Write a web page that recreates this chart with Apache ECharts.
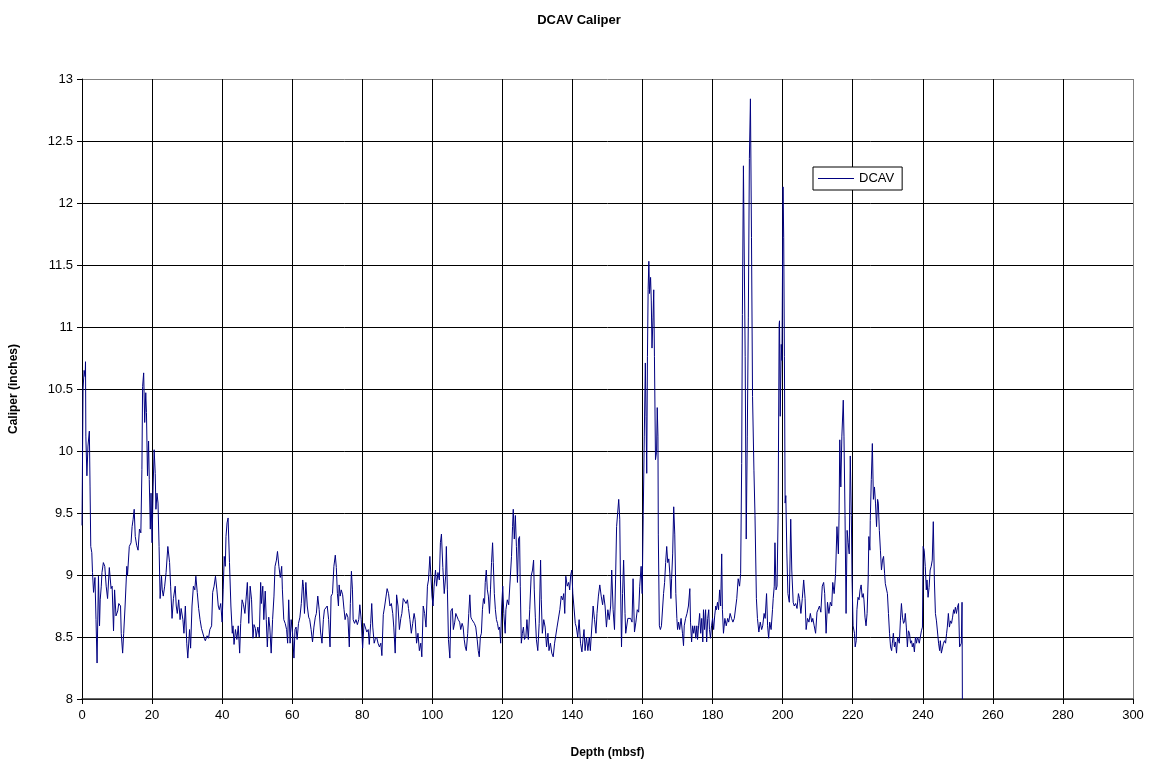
<!DOCTYPE html>
<html>
<head>
<meta charset="utf-8">
<script src="https://cdn.jsdelivr.net/npm/echarts@6/dist/echarts.min.js"></script>
<style>
html,body{margin:0;padding:0;background:#fff;}
#c{width:1158px;height:769px;}
</style>
</head>
<body>
<div id="c"></div>
<script>
var chartTitle = "DCAV Caliper";
var seriesName = "DCAV";
var xTitle = "Depth (mbsf)";
var yTitle = "Caliper (inches)";

var depth = [
0,0.3,0.6,0.9,1.0,1.1,1.4,1.7,2.1,2.3,2.5,2.8,3.0,3.3,3.7,4.0,4.3,4.7,5.0,5.2,5.5,5.7,6.1,6.5,6.9,7.3,7.8,8.3,8.6,9.0,9.3,9.7,10.2,10.5,11.0,11.2,11.6,11.9,12.3,12.8,13.0,13.5,14.0,14.3,14.6,14.9,15.2,15.6,16.0,16.4,16.8,17.1,17.3,17.6,17.9,18.2,18.4,18.7,19.0,19.2,19.5,19.7,20.0,20.3,20.6,20.9,21.1,21.4,21.7,22.0,22.3,22.7,22.9,23.2,23.6,24.0,24.5,25.0,25.3,25.7,26.1,26.6,26.9,27.2,27.6,28.0,28.3,28.8,29.1,29.5,29.9,30.2,30.7,31.0,31.4,31.8,32.2,32.5,32.9,33.3,33.7,34.1,34.5,34.9,35.2,35.7,36.1,36.5,37.0,37.3,37.7,38.1,38.5,38.9,39.2,39.6,40.0,40.3,40.6,40.9,41.1,41.4,41.7,42.1,42.5,42.9,43.1,43.4,43.8,44.2,44.6,45.0,45.3,45.7,46.1,46.5,46.9,47.2,47.6,48.0,48.4,48.8,49.1,49.5,
49.7,50.2,50.6,51.0,51.2,51.6,51.9,52.3,52.6,52.9,53.3,53.6,54.0,54.4,54.8,55.1,55.5,55.8,56.2,56.6,57.0,57.2,57.6,58.0,58.4,58.7,59.0,59.4,59.7,60.1,60.5,60.8,61.1,61.4,61.8,62.2,62.6,63.0,63.2,63.5,63.9,64.3,64.7,65.0,65.4,65.8,66.2,66.6,66.9,67.3,67.7,68.1,68.5,68.9,69.2,69.6,70.0,70.4,70.8,71.1,71.5,71.9,72.3,72.6,72.9,73.2,73.4,73.7,74.0,74.4,74.8,75.1,75.5,75.9,76.3,76.6,76.9,77.2,77.4,77.8,78.2,78.6,79.0,79.3,79.7,80.1,80.5,80.9,81.3,81.7,82.0,82.4,82.7,83.0,83.4,83.7,84.1,84.5,84.9,85.3,85.6,86.0,86.4,86.8,87.1,87.5,87.9,88.3,88.7,89.0,89.4,89.8,90.2,90.6,91.0,91.3,91.7,92.1,92.5,92.9,93.2,93.6,94.0,94.4,94.8,95.1,95.5,95.9,96.3,96.7,97.0,97.4,97.8,98.2,98.6,98.9,99.3,99.6,99.9,100.2,100.5,100.9,101.2,101.6,102.0,102.3,102.6,103.0,103.4,
103.8,104.0,104.3,104.6,105.0,105.3,105.7,106.0,106.4,106.7,107.0,107.4,107.8,108.1,108.5,108.8,109.1,109.4,109.7,110.1,110.4,110.7,111.0,111.3,111.6,112.0,112.4,112.8,113.1,113.4,113.7,114.0,114.3,114.6,114.9,115.1,115.4,115.7,116.0,116.3,116.6,116.9,117.2,117.4,117.7,118.0,118.3,118.6,118.9,119.2,119.5,119.8,120.1,120.4,120.8,121.0,121.4,121.8,122.2,122.6,122.9,123.1,123.4,123.7,124.0,124.3,124.6,124.9,125.1,125.4,125.7,126.0,126.3,126.7,127.0,127.4,127.8,128.2,128.6,128.9,129.1,129.4,129.7,130.1,130.5,130.9,131.1,131.4,131.8,132.2,132.6,133.0,133.3,133.7,134.1,134.5,134.9,135.2,135.6,136.0,136.4,136.8,137.2,137.5,137.8,138.1,138.5,138.9,139.2,139.5,139.8,140.1,140.4,140.8,141.1,141.5,141.9,142.3,142.7,143.0,143.3,143.6,144.0,144.4,144.8,145.1,145.5,145.9,146.3,146.7,147.0,147.4,147.8,148.2,148.6,148.9,149.3,149.7,150.1,150.5,150.9,151.2,151.6,152.0,152.3,152.6,152.9,153.2,153.5,153.7,154.0,154.3,154.6,155.0,155.2,
155.5,155.8,156.2,156.6,157.0,157.3,157.7,158.1,158.5,158.9,159.2,159.6,159.9,160.2,160.5,160.8,161.0,161.2,161.4,161.6,161.8,162.0,162.3,162.5,162.7,163.0,163.2,163.4,163.7,164.0,164.2,164.4,164.5,164.8,165.1,165.4,165.7,166.0,166.3,166.6,166.9,167.2,167.5,167.8,168.1,168.3,168.6,168.9,169.2,169.5,169.8,170.0,170.3,170.6,171.0,171.4,171.7,171.9,172.3,172.7,173.1,173.5,173.7,174.0,174.3,174.6,174.9,175.2,175.5,175.7,176.0,176.3,176.6,176.9,177.2,177.4,177.7,178.0,178.3,178.6,178.9,179.1,179.4,179.7,180.0,180.3,180.6,180.9,181.1,181.4,181.7,182.0,182.3,182.6,182.8,183.1,183.5,183.9,184.3,184.6,185.0,185.4,185.8,186.2,186.5,186.9,187.3,187.7,188.0,188.3,188.5,188.8,
189.3,189.6,189.9,190.2,190.5,190.8,191.1,191.4,191.8,192.1,192.5,192.8,193.2,193.6,194.0,194.3,194.7,195.0,195.4,195.7,196.0,196.3,196.7,197.1,197.3,197.6,197.8,198.1,198.4,198.7,199.0,199.1,199.3,199.6,199.8,200.1,200.3,200.5,200.7,200.9,201.2,201.5,201.9,202.3,202.6,203.0,203.3,203.7,204.1,204.5,204.8,205.2,205.6,206.0,206.4,206.7,207.1,207.5,207.9,208.3,208.6,209.0,209.4,209.8,210.1,210.5,210.9,211.3,211.7,212.0,212.4,212.8,213.2,213.6,214.0,214.3,214.7,215.1,215.5,215.9,216.1,216.3,216.6,216.9,217.3,217.5,217.8,218.1,218.4,218.7,219.0,219.3,219.6,219.8,220.1,220.5,
220.7,221.0,221.2,221.5,221.8,222.1,222.4,222.7,223.0,223.2,223.5,223.8,224.1,224.4,224.6,224.9,225.0,225.3,225.6,225.9,226.2,226.5,226.8,227.1,227.3,227.6,227.9,228.2,228.5,228.8,229.1,229.3,229.6,229.9,230.2,230.5,230.8,231.1,231.3,231.6,231.9,232.2,232.5,232.8,233.1,233.3,233.6,233.9,234.2,234.5,234.8,235.0,235.3,235.6,235.9,236.2,236.5,236.8,237.0,237.3,237.6,237.9,238.2,238.5,238.8,239.0,239.3,239.6,239.9,240.1,240.4,240.7,241.0,241.2,241.5,241.8,242.1,242.4,242.7,243.0,243.3,243.6,243.9,244.2,244.5,244.8,245.0,245.3,245.6,245.9,246.2,246.5,246.8,247.0,247.3,247.6,247.9,248.2,248.5,248.8,249.0,249.3,249.6,249.9,250.2,250.5,250.8,251.0,251.2,251.3
];

var dcav = [
9.4,10.5,10.65,10.6,10.72,10.12,9.8,10.04,10.16,9.71,9.23,9.18,9.02,8.86,8.98,8.64,8.29,8.99,8.59,8.80,8.91,9.02,9.10,9.07,8.91,8.81,9.06,8.89,8.91,8.55,8.88,8.67,8.71,8.77,8.75,8.53,8.37,8.53,8.75,9.07,9.0,9.23,9.26,9.39,9.45,9.53,9.31,9.24,9.2,9.37,9.34,9.85,10.52,10.63,10.23,10.47,10.31,9.80,10.08,9.77,9.37,9.66,9.26,9.71,10.01,9.82,9.53,9.66,9.58,9.23,8.81,8.99,8.88,8.83,8.91,9.02,9.23,9.10,8.91,8.65,8.81,8.91,8.75,8.69,8.80,8.64,8.73,8.64,8.53,8.75,8.45,8.33,8.56,8.41,8.75,8.91,8.88,8.99,8.86,8.73,8.64,8.57,8.56,8.49,8.47,8.51,8.49,8.56,8.59,8.86,8.91,8.99,8.88,8.75,8.72,8.77,8.62,8.88,9.15,9.07,9.31,9.42,9.46,9.10,8.75,8.53,8.59,8.44,8.56,8.48,8.59,8.37,8.61,8.80,8.76,8.69,8.83,8.94,8.61,8.91,8.80,8.49,8.60,8.57,
8.50,8.58,8.50,8.94,8.77,8.91,8.64,8.87,8.64,8.42,8.66,8.58,8.37,8.64,8.83,9.07,9.12,9.19,9.07,8.98,9.07,8.88,8.64,8.61,8.56,8.45,8.80,8.45,8.64,8.53,8.33,8.56,8.58,8.48,8.61,8.66,8.77,8.96,8.91,8.69,8.94,8.75,8.66,8.64,8.56,8.46,8.58,8.66,8.69,8.83,8.72,8.54,8.45,8.64,8.72,8.71,8.75,8.64,8.42,8.83,8.85,9.07,9.16,9.06,8.85,8.75,8.92,8.83,8.88,8.84,8.72,8.64,8.69,8.66,8.42,8.77,9.03,8.88,8.64,8.61,8.64,8.60,8.64,8.76,8.64,8.41,8.61,8.61,8.54,8.56,8.44,8.61,8.77,8.58,8.45,8.48,8.50,8.45,8.42,8.45,8.35,8.68,8.75,8.83,8.89,8.85,8.75,8.77,8.69,8.58,8.37,8.84,8.75,8.56,8.65,8.69,8.81,8.80,8.77,8.80,8.73,8.64,8.53,8.61,8.69,8.64,8.45,8.53,8.39,8.45,8.34,8.75,8.69,8.58,8.91,8.96,9.15,8.99,8.83,8.75,8.91,9.04,8.91,9.02,8.96,9.26,9.33,9.06,8.85,
8.99,9.23,8.88,8.48,8.33,8.71,8.73,8.56,8.62,8.69,8.68,8.64,8.62,8.56,8.61,8.58,8.48,8.42,8.39,8.53,8.69,8.84,8.66,8.64,8.65,8.61,8.58,8.48,8.39,8.34,8.50,8.53,8.72,8.81,8.77,8.94,9.04,8.88,8.83,8.69,8.88,9.10,9.26,9.10,8.85,8.72,8.64,8.61,8.56,8.58,8.45,8.75,8.91,8.69,8.53,8.72,8.80,8.76,8.77,9.15,9.39,9.53,9.29,9.48,9.23,8.94,9.29,9.31,8.91,8.45,8.53,8.58,8.48,8.50,8.64,8.48,8.72,8.99,9.04,9.12,8.88,8.66,8.48,8.39,8.61,9.12,8.80,8.53,8.64,8.58,8.42,8.53,8.39,8.45,8.37,8.34,8.45,8.45,8.58,8.58,8.72,8.83,8.80,8.85,8.69,8.99,8.91,8.94,8.88,9.00,9.04,8.85,8.75,8.61,8.58,8.50,8.64,8.45,8.38,8.48,8.56,8.39,8.50,8.39,8.50,8.39,8.39,8.75,8.64,8.53,8.69,8.83,8.92,8.83,8.76,8.84,8.75,8.58,8.72,8.64,8.75,9.04,8.72,8.56,8.96,9.39,9.50,9.61,9.45,8.96,8.42,8.85,9.12,8.69,8.53,
8.53,8.65,8.64,8.65,8.62,8.97,8.54,8.62,8.72,8.70,8.91,9.07,8.85,9.48,10.12,10.71,10.28,9.82,10.76,11.30,11.53,11.27,11.40,11.21,10.83,11.08,11.30,10.76,9.93,9.99,10.35,10.12,9.33,8.59,8.56,8.59,8.59,8.85,8.94,9.10,9.23,9.10,9.13,9.01,8.81,8.97,9.17,9.55,9.33,8.85,8.65,8.56,8.62,8.56,8.65,8.53,8.43,8.59,8.65,8.69,8.75,8.89,8.62,8.46,8.59,8.53,8.59,8.49,8.59,8.48,8.59,8.69,8.53,8.65,8.46,8.72,8.56,8.72,8.46,8.65,8.72,8.56,8.49,8.59,8.65,8.56,8.67,8.75,8.72,8.78,8.72,8.88,8.75,9.17,8.72,8.53,8.65,8.59,8.65,8.62,8.69,8.65,8.62,8.65,8.65,8.81,8.97,8.91,9.01,9.9,11.1,12.3,
10.76,9.29,10.12,11.08,12.36,12.84,11.72,10.44,9.84,9.48,8.81,8.65,8.54,8.62,8.56,8.59,8.69,8.65,8.85,8.59,8.49,8.62,8.56,8.72,8.81,8.91,9.26,8.88,8.91,9.48,11.02,11.05,10.28,10.86,10.73,12.13,11.72,10.76,9.58,9.64,9.17,8.85,8.78,9.45,9.04,8.78,8.75,8.77,8.73,8.85,8.81,8.69,8.81,8.96,8.81,8.56,8.65,8.62,8.69,8.62,8.65,8.59,8.53,8.70,8.72,8.75,8.70,8.91,8.94,8.85,8.53,8.78,8.69,8.78,8.75,8.94,8.85,9.01,9.39,9.17,9.48,10.09,9.71,10.12,10.41,10.12,9.48,8.69,9.36,9.26,9.17,9.96,9.48,8.97,8.59,8.53,
8.42,8.47,8.72,8.82,8.80,8.88,8.92,8.82,8.85,8.80,8.66,8.59,8.69,8.96,9.31,9.20,9.44,9.77,10.06,9.61,9.71,9.58,9.39,9.61,9.58,9.36,9.20,9.04,9.12,9.15,9.01,8.93,8.93,8.85,8.69,8.53,8.42,8.39,8.45,8.53,8.42,8.46,8.37,8.50,8.50,8.45,8.63,8.77,8.66,8.61,8.63,8.69,8.58,8.42,8.55,8.53,8.45,8.47,8.42,8.45,8.38,8.50,8.45,8.50,8.47,8.45,8.50,8.55,8.58,9.23,9.20,9.07,8.88,8.96,8.82,8.90,9.04,9.07,9.12,9.43,8.96,8.69,8.63,8.63,8.45,8.39,8.47,8.37,8.37,8.45,8.47,8.45,8.53,8.58,8.69,8.58,8.63,8.61,8.66,8.72,8.69,8.74,8.69,8.74,8.77,8.42,8.41,8.45,8.78,8.0
];

var xTicks = {min: 0, max: 300, interval: 20};
var yTicks = {min: 8, max: 13, interval: 0.5};

var pts = depth.map(function (d, i) { return [d, dcav[i]]; });

function splitColors(n) {
  var arr = [];
  for (var i = 0; i < n; i++) arr.push(i === n - 1 ? '#808080' : '#000000');
  return arr;
}
var nx = Math.round((xTicks.max - xTicks.min) / xTicks.interval) + 1;
var ny = Math.round((yTicks.max - yTicks.min) / yTicks.interval) + 1;

var chart = echarts.init(document.getElementById('c'), null, {renderer: 'canvas'});
var font = 'Liberation Sans, Arial, sans-serif';
chart.setOption({
  animation: false,
  backgroundColor: '#ffffff',
  textStyle: {fontFamily: font},
  title: {
    text: chartTitle,
    left: 'center',
    top: 9,
    textStyle: {fontFamily: font, fontSize: 13, fontWeight: 'bold', color: '#000'}
  },
  legend: {
    data: [{name: seriesName, icon: 'rect'}],
    left: 813,
    top: 167,
    itemWidth: 36,
    itemHeight: 1,
    itemGap: 4,
    padding: [5, 8, 5, 5],
    borderColor: '#000',
    borderWidth: 1,
    borderRadius: 0,
    backgroundColor: '#fff',
    textStyle: {fontFamily: font, fontSize: 13, color: '#000'}
  },
  grid: {
    left: 82, right: 25, top: 79, bottom: 70,
    show: false
  },
  xAxis: {
    type: 'value',
    min: xTicks.min, max: xTicks.max, interval: xTicks.interval,
    name: xTitle,
    nameLocation: 'middle',
    nameGap: 48,
    nameTextStyle: {fontFamily: font, fontSize: 12, fontWeight: 'bold', color: '#000'},
    axisLine: {lineStyle: {color: '#333', width: 1.5}},
    axisTick: {show: true, length: 5, lineStyle: {color: '#000'}},
    axisLabel: {fontFamily: font, fontSize: 13, color: '#000', margin: 10},
    splitLine: {show: true, lineStyle: {color: splitColors(nx), width: 1}}
  },
  yAxis: {
    type: 'value',
    min: yTicks.min, max: yTicks.max, interval: yTicks.interval,
    name: yTitle,
    nameLocation: 'middle',
    nameGap: 62,
    nameTextStyle: {fontFamily: font, fontSize: 12, fontWeight: 'bold', color: '#000'},
    axisLine: {show: true, lineStyle: {color: '#000', width: 1}},
    axisTick: {show: true, length: 5, lineStyle: {color: '#000'}},
    axisLabel: {fontFamily: font, fontSize: 13, color: '#000', margin: 9},
    splitLine: {show: true, lineStyle: {color: splitColors(ny), width: 1}}
  },
  series: [{
    name: seriesName,
    type: 'line',
    data: pts,
    showSymbol: false,
    symbol: 'none',
    lineStyle: {color: '#000080', width: 1},
    itemStyle: {color: '#000080'}
  }]
});
</script>
</body>
</html>
